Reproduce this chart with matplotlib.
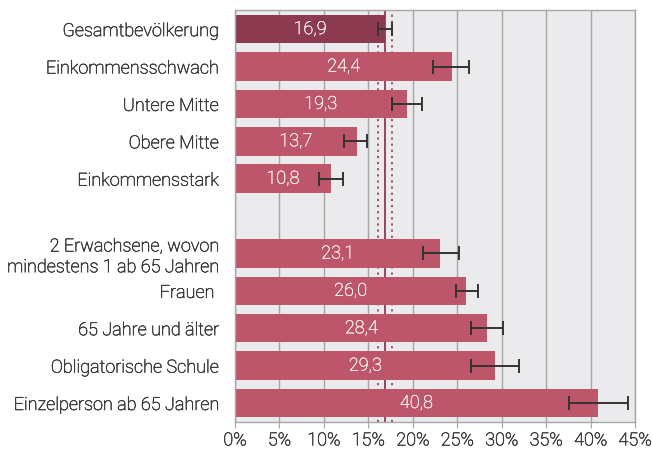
import matplotlib
matplotlib.use("Agg")
import matplotlib.pyplot as plt
import matplotlib.patheffects as pe
import numpy as np

plt.rcParams['font.family'] = ['Roboto', 'DejaVu Sans']

categories = ["Gesamtbevölkerung", "Einkommensschwach", "Untere Mitte", "Obere Mitte",
              "Einkommensstark", "", "2 Erwachsene, wovon\nmindestens 1 ab 65 Jahren",
              "Frauen ", "65 Jahre und älter", "Obligatorische Schule",
              "Einzelperson ab 65 Jahren"]
values = [16.9, 24.4, 19.3, 13.7, 10.8, None, 23.1, 26.0, 28.4, 29.3, 40.8]
ci_low = [16.1, 22.3, 17.7, 12.3, 9.5, None, 21.1, 24.9, 26.6, 26.6, 37.6]
ci_high = [17.7, 26.3, 21.0, 14.9, 12.1, None, 25.2, 27.3, 30.2, 32.0, 44.2]
ref_value = 16.9
ref_low = 16.1
ref_high = 17.7
xticks = [0, 5, 10, 15, 20, 25, 30, 35, 40, 45]

fig = plt.figure(figsize=(6.52, 4.54), dpi=100)
ax = fig.add_axes([0.3604, 0.0711, 0.974 - 0.3604, 0.977 - 0.0711])
ax.set_facecolor("#EBEBEE")

ax.set_xlim(0, 45)
ax.set_ylim(10.5, -0.5)

for x in xticks:
    ax.axvline(x, color="#A6A6A6", lw=1.0, zorder=0)

ax.axvline(ref_value, color="#8B3A4F", lw=1.3, zorder=1)
ax.axvline(ref_low, color="#A0405A", lw=1.3, ls=(0, (1.2, 2.2)), zorder=1)
ax.axvline(ref_high, color="#A0405A", lw=1.3, ls=(0, (1.2, 2.2)), zorder=1)

fs = 13.0
fw = "light"
dark = "#3A3A3A"
thick_dark = [pe.withStroke(linewidth=0.4, foreground=dark)]
thick_white = [pe.withStroke(linewidth=0.2, foreground="white")]
for i, v in enumerate(values):
    if v is None:
        continue
    col = "#8B3A4F" if i == 0 else "#BD566A"
    ax.barh(i, v, height=0.76, color=col, zorder=2)
    ax.errorbar(v, i, xerr=[[v - ci_low[i]], [ci_high[i] - v]], fmt='none',
                ecolor="#333333", elinewidth=1.4, capsize=5, capthick=1.4, zorder=3)
    ax.text(v / 2, i, f"{v:.1f}".replace(".", ","), color="white", ha="center",
            va="center", fontsize=fs, fontweight=fw, zorder=4, path_effects=thick_white)

ax.set_yticks(range(len(categories)))
ax.set_yticklabels(categories, fontsize=fs, color=dark, fontweight=fw)
ax.tick_params(axis="y", length=0, pad=12)
ax.set_xticks(xticks)
ax.set_xticklabels([f"{x}%" for x in xticks], fontsize=fs, color=dark, fontweight=fw)
ax.tick_params(axis="x", length=4, color="#A6A6A6", pad=3)
for lab in ax.get_yticklabels() + ax.get_xticklabels():
    lab.set_path_effects(thick_dark)

for s in ax.spines.values():
    s.set_color("#A6A6A6")
    s.set_linewidth(1.0)

fig.savefig("out.png", dpi=100)
